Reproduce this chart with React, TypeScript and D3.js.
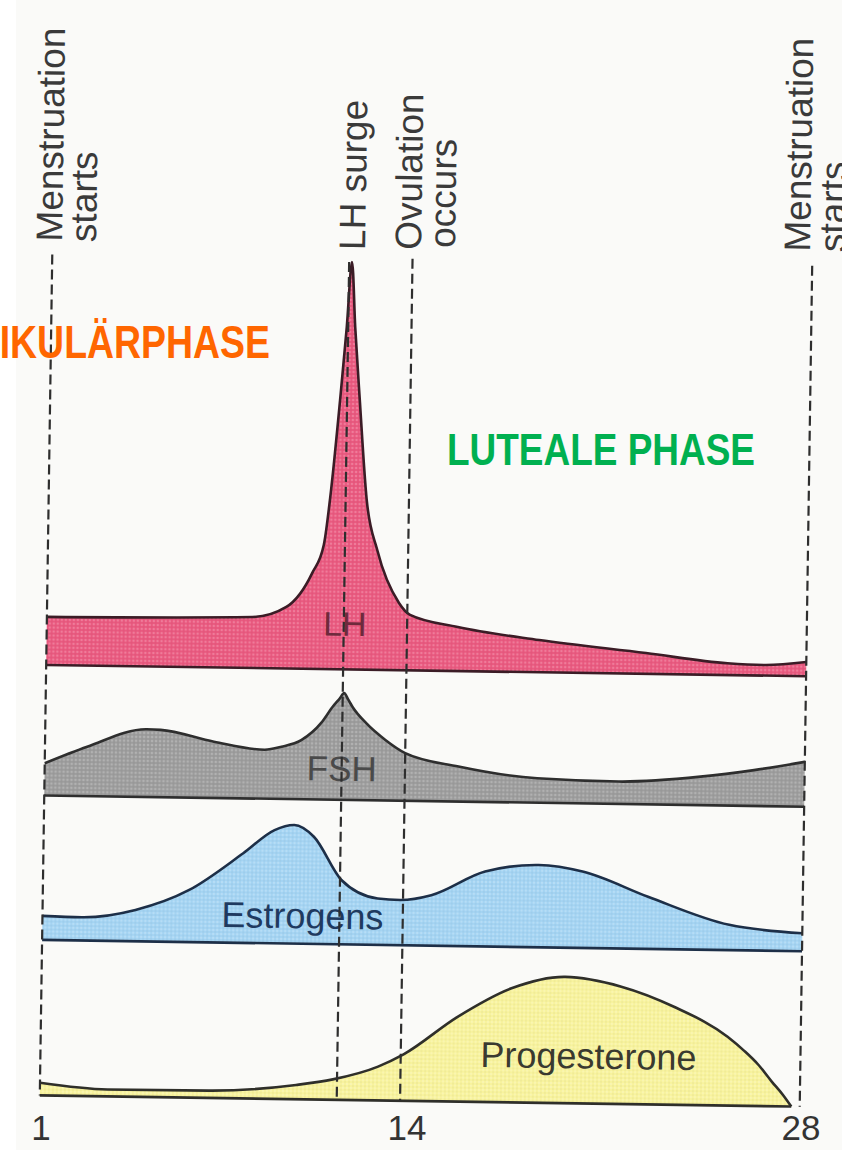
import * as d3 from 'd3'
import React from 'react'

// cycle days and relative hormone levels (one shared unit, LH peak = 100)
const lhDays = [1, 8.3, 9.5, 10.4, 10.8, 11.0, 11.3, 11.5, 11.65, 11.8, 12.0, 12.3, 12.7, 13.5, 13.9, 15.6, 18.5, 22.3, 25.2, 26.5, 28]
const lhLevels = [11.8, 12.5, 15.1, 23.5, 30.5, 42.0, 66.0, 84, 100, 84, 66.2, 41.6, 29.4, 16.5, 13.6, 10.8, 7.9, 5.1, 2.9, 2.6, 3.5]

const fshDays = [1, 2.5, 4.6, 5.1, 7.0, 8.8, 9.4, 10.1, 10.8, 11.2, 11.45, 11.6, 11.75, 11.9, 12.4, 13.1, 13.8, 15.7, 18.5, 21.4, 24.3, 26.2, 28]
const fshLevels = [7.9, 12.1, 16.6, 16.5, 13.8, 12.0, 12.8, 14.5, 18.8, 22.8, 24.9, 26.2, 24.6, 22.9, 18.9, 14.8, 11.7, 8.6, 6.0, 5.5, 7.0, 8.8, 11.0]

const estrogenDays = [1, 2.4, 4.3, 6.2, 8.1, 9.2, 9.9, 10.6, 11.6, 12.9, 13.7, 14.8, 16.7, 18.6, 20.2, 22.5, 25.4, 28]
const estrogenLevels = [5.9, 5.7, 7.7, 12.8, 22.0, 27.8, 29.1, 26.3, 15.8, 11.4, 11.1, 12.4, 18.4, 20.2, 18.7, 12.8, 6.2, 4.4]

const progesteroneDays = [1, 3.4, 7.0, 10.1, 11.4, 13.0, 13.9, 15.8, 17.7, 19.6, 21.6, 23.5, 25.4, 26.0, 26.5, 27.0, 27.4, 27.7]
const progesteroneLevels = [3.1, 1.7, 1.8, 3.5, 5.0, 8.3, 11.4, 20.8, 28.0, 31.0, 28.8, 24.0, 16.9, 13.5, 10.2, 6.0, 2.8, 0]

const tickDays = [1, 14, 28]
const lhSurgeDay = 11.55
const ovulationDay = 13.8

const W = 842
const H = 1150
const tilt = 0.85 // the scanned page is a bit crooked
const font = '"Liberation Sans", Arial, Helvetica, sans-serif'

export default function App() {
  const x = d3.scaleLinear().domain([1, 28]).range([46, 806])
  const level = d3.scaleLinear().domain([0, 100]).range([0, 407.5])

  const panels = [
    { name: 'LH', days: lhDays, levels: lhLevels, base: 670.5, fill: '#ea5a80', stroke: '#3b1c26',
      label: 'LH', lx: 344, ly: 637, size: 34, color: '#6e2a3c' },
    { name: 'FSH', days: fshDays, levels: fshLevels, base: 801, fill: '#9d9d9d', stroke: '#2e2e2e',
      label: 'FSH', lx: 343, ly: 782, size: 35, color: '#4a4a4a' },
    { name: 'Estrogens', days: estrogenDays, levels: estrogenLevels, base: 945.5, fill: '#a4d4f3', stroke: '#1d2f48',
      label: 'Estrogens', lx: 306, ly: 930, size: 36, color: '#1f3a60' },
    { name: 'Progesterone', days: progesteroneDays, levels: progesteroneLevels, base: 1101, fill: '#f8f39d', stroke: '#2f2f2a',
      label: 'Progesterone', lx: 594, ly: 1066, size: 36, color: '#3a3a30' },
  ]

  const markers = [
    { day: 1, top: 260, lines: [{ t: 'Menstruation', dx: 9.5, bottom: 247 }, { t: 'starts', dx: 43.5, bottom: 247 }] },
    { day: lhSurgeDay, top: 263, lines: [{ t: 'LH surge', dx: 15.7, bottom: 251 }] },
    { day: ovulationDay, top: 259, lines: [{ t: 'Ovulation', dx: 8.3, bottom: 250 }, { t: 'occurs', dx: 42.3, bottom: 247.5 }] },
    { day: 28, top: 260, lines: [{ t: 'Menstruation', dx: -2.3, bottom: 246 }, { t: 'starts', dx: 32.7, bottom: 246 }] },
  ]

  return (
    <svg width={W} height={H} viewBox={`0 0 ${W} ${H}`}
      style={{ position: 'absolute', left: 0, top: 0, background: '#ffffff' }}>
      <defs>
        <pattern id="dots" width={4} height={4} patternUnits="userSpaceOnUse">
          <circle cx={1} cy={1} r={0.9} fill="#ffffff" opacity={0.3} />
          <circle cx={3} cy={3} r={0.7} fill="#000000" opacity={0.08} />
        </pattern>
      </defs>
      <rect x={16} y={0} width={W - 16} height={H} fill="#fafaf8" />

      <g transform={`rotate(${tilt}, 420, 680)`}>
        {panels.map(p => {
          const area = d3.area<number>()
            .x((d, i) => x(p.days[i]))
            .y0(p.base)
            .y1(d => p.base - level(d))
            .curve(d3.curveMonotoneX)
          const top = d3.line<number>()
            .x((d, i) => x(p.days[i]))
            .y(d => p.base - level(d))
            .curve(d3.curveMonotoneX)
          const x0 = x(p.days[0])
          const x1 = x(p.days[p.days.length - 1])
          return (
            <g key={p.name}>
              <path d={area(p.levels) || ''} fill={p.fill} />
              <path d={area(p.levels) || ''} fill="url(#dots)" />
              <path d={top(p.levels) || ''} fill="none" stroke={p.stroke} strokeWidth={2.6} strokeLinejoin="round" />
              <line x1={x0} x2={x1} y1={p.base} y2={p.base} stroke={p.stroke} strokeWidth={2.6} />
              <text x={p.lx} y={p.ly} textAnchor="middle" fontFamily={font} fontSize={p.size} fill={p.color}>{p.label}</text>
            </g>
          )
        })}

        {markers.map(m => (
          <g key={m.day}>
            <line x1={x(m.day)} x2={x(m.day)} y1={m.top} y2={1101}
              stroke="#2e2e2e" strokeWidth={2.2} strokeDasharray="10,5" />
            {m.lines.map(l => (
              <text key={l.t} transform={`translate(${x(m.day) + l.dx},${l.bottom}) rotate(-90)`}
                fontFamily={font} fontSize={37} fill="#3a3a3a">{l.t}</text>
            ))}
          </g>
        ))}
      </g>

      {tickDays.map(d => (
        <text key={d} x={x(d) - 5} y={1140} textAnchor="middle" fontFamily={font} fontSize={35} fill="#333333">{d}</text>
      ))}

      <text x={-98} y={358} textLength={368} lengthAdjust="spacingAndGlyphs"
        fontFamily={'"Liberation Sans Narrow", "Liberation Sans", Arial, sans-serif'}
        fontWeight="bold" fontSize={47} fill="#ff6600">FOLLIKULÄRPHASE</text>
      <text x={447} y={465} textLength={308} lengthAdjust="spacingAndGlyphs"
        fontFamily={'"Liberation Sans Narrow", "Liberation Sans", Arial, sans-serif'}
        fontWeight="bold" fontSize={44} fill="#00b050">LUTEALE PHASE</text>
    </svg>
  )
}
